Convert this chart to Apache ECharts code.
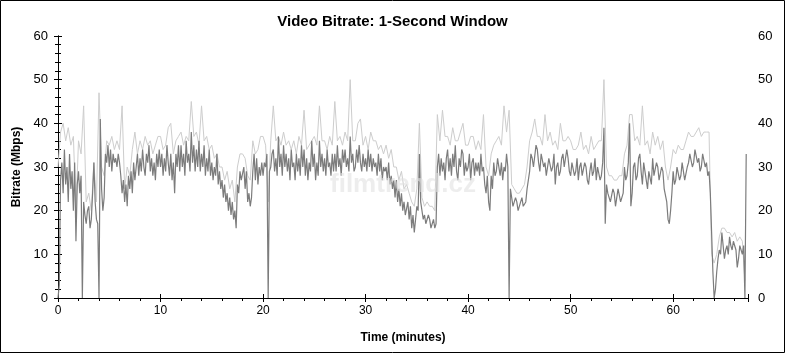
<!DOCTYPE html>
<html>
<head>
<meta charset="utf-8">
<script src="https://cdn.jsdelivr.net/npm/echarts@6/dist/echarts.min.js"></script>
<style>
  html, body { margin: 0; padding: 0; background: #fff; }
  #chart { width: 785px; height: 353px; }
</style>
</head>
<body>
<div id="chart"></div>
<script>
// time step between samples, minutes
const darkStep = 0.125
const lightStep = 0.25

// 1-second bitrate, Mbps (8 samples per minute)
const darkValues = [
  0, 3, 27, 31, 24, 34, 26, 30,
  22, 33, 25, 29, 20, 31, 13, 26,
  29, 24, 28, 0, 22, 19, 17, 20,
  21, 16, 18, 24, 31, 22, 18, 17,
  0, 41, 25, 20, 23, 33, 31, 35,
  30, 34, 29, 33, 31, 32, 30, 33,
  31, 28, 24, 27, 22, 26, 21, 28,
  25, 29, 24, 31, 27, 30, 33, 28,
  32, 29, 34, 30, 28, 33, 31, 35,
  29, 32, 28, 31, 27, 33, 30, 34,
  30, 33, 28, 32, 29, 35, 31, 28,
  33, 27, 31, 24, 33, 30, 35, 29,
  35, 30, 33, 28, 36, 31, 33, 29,
  38, 31, 35, 29, 34, 30, 36, 29,
  33, 30, 35, 28, 32, 29, 34, 28,
  31, 27, 30, 28, 33, 26, 29, 25,
  27, 23, 26, 22, 24, 20, 23, 19,
  22, 18, 20, 16, 26, 24, 29, 27,
  27, 30, 25, 29, 22, 24, 21, 23,
  29, 33, 27, 32, 26, 30, 28, 31,
  28, 31, 30, 33, 0, 29, 30, 33,
  34, 29, 32, 28, 37, 30, 33, 28,
  35, 30, 33, 29, 32, 27, 34, 30,
  31, 27, 33, 29, 32, 28, 35, 30,
  34, 28, 32, 27, 31, 29, 36, 30,
  33, 27, 31, 28, 36, 30, 33, 29,
  32, 28, 34, 30, 31, 28, 33, 29,
  33, 29, 35, 30, 32, 28, 34, 31,
  34, 30, 32, 29, 37, 31, 33, 29,
  30, 34, 31, 35, 31, 29, 33, 30,
  32, 29, 34, 30, 33, 29, 32, 30,
  31, 28, 33, 29, 32, 27, 30, 29,
  30, 27, 31, 26, 28, 25, 27, 23,
  27, 22, 25, 21, 24, 20, 22, 19,
  19, 22, 18, 21, 16, 19, 15, 18,
  21, 20, 33, 22, 20, 18, 19, 17,
  17, 19, 18, 16, 17, 18, 16, 17,
  30, 33, 28, 32, 29, 31, 27, 32,
  34, 29, 32, 28, 33, 30, 35, 29,
  27, 32, 30, 34, 33, 28, 31, 29,
  30, 33, 27, 31, 32, 28, 31, 29,
  31, 28, 33, 29, 30, 26, 24, 28,
  22, 20, 28, 25, 31, 28, 29, 32,
  32, 28, 31, 27, 30, 29, 33, 30,
  0, 25, 23, 21, 21, 23, 22, 20,
  20, 22, 23, 21, 21, 22, 25, 27,
  29, 33, 32, 30, 30, 35, 34, 31,
  29, 33, 33, 30, 31, 28, 28, 32,
  32, 29, 30, 33, 26, 30, 31, 28,
  29, 32, 33, 30, 30, 34, 32, 29,
  28, 31, 31, 28, 29, 32, 27, 30,
  31, 28, 28, 31, 30, 27, 26, 29,
  31, 28, 29, 32, 27, 30, 30, 27,
  28, 31, 39, 17, 26, 24, 24, 22,
  22, 25, 24, 21, 23, 25, 25, 22,
  22, 24, 30, 27, 28, 31, 40, 21,
  24, 30, 31, 27, 28, 32, 33, 29,
  26, 31, 31, 27, 25, 29, 29, 26,
  32, 28, 28, 31, 30, 27, 27, 30,
  29, 25, 25, 22, 18, 17, 20, 24,
  29, 26, 27, 30, 30, 27, 28, 31,
  29, 27, 27, 30, 31, 33, 33, 30,
  31, 34, 34, 31, 32, 29, 30, 33,
  33, 30, 31, 28, 29, 24, 15, 6,
  0, 2, 6, 9, 11, 10, 15, 12,
  9, 11, 12, 10, 14, 12, 11, 13,
  13, 11, 7, 9, 12, 11, 10, 12,
  0, 33
]

// light gray peak trace behind it (4 samples per minute)
const lightValues = [
  30, 38, 40, 36, 39, 35, 37, 20, 36, 33, 44, 22, 24, 20, 31, 22,
  47, 30, 28, 36, 35, 37, 34, 36, 34, 44, 25, 30, 28, 34, 38, 33,
  36, 34, 37, 35, 36, 33, 35, 37, 37, 34, 35, 39, 40, 33, 36, 37,
  38, 35, 37, 36, 45, 37, 38, 35, 44, 36, 37, 34, 35, 32, 33, 30,
  30, 27, 29, 25, 27, 22, 30, 33, 33, 32, 28, 27, 36, 33, 34, 37,
  37, 35, 22, 36, 44, 36, 37, 35, 38, 35, 36, 34, 36, 33, 37, 35,
  43, 34, 35, 36, 37, 35, 44, 36, 36, 34, 37, 35, 45, 36, 37, 35,
  38, 36, 50, 36, 36, 40, 41, 35, 37, 34, 38, 36, 36, 34, 35, 33,
  35, 32, 34, 30, 30, 27, 29, 25, 26, 24, 22, 21, 25, 40, 23, 21,
  22, 21, 21, 20, 42, 36, 43, 37, 37, 35, 39, 36, 36, 38, 40, 35,
  35, 37, 37, 34, 36, 34, 42, 30, 28, 33, 35, 36, 37, 35, 44, 38,
  43, 26, 25, 24, 24, 25, 26, 30, 36, 38, 41, 37, 37, 35, 42, 36,
  38, 35, 36, 34, 40, 36, 36, 37, 36, 34, 34, 35, 38, 34, 35, 33,
  37, 34, 35, 36, 36, 50, 30, 28, 28, 27, 27, 28, 28, 33, 35, 42,
  42, 36, 37, 35, 44, 35, 36, 33, 38, 35, 37, 34, 36, 30, 27, 30,
  34, 33, 35, 34, 34, 36, 38, 37, 37, 38, 39, 37, 38, 38, 38, 10,
  8, 10, 14, 16, 16, 15, 15, 14, 15, 13, 14, 13, 4
]

const xTicks = [0, 10, 20, 30, 40, 50, 60]
const xMax = 67.3
const yMax = 60

const darkData = darkValues.map((v, i) => [i * darkStep, v])
const lightData = lightValues.map((v, i) => [i * lightStep, v])

const font = 'Liberation Sans, Arial, sans-serif'
const black = '#000'

function xAxisBase(extra) {
  return Object.assign({
    type: 'value',
    min: 0,
    max: xMax,
    interval: 10,
    splitLine: { show: false },
    axisLine: { show: true, lineStyle: { color: black, width: 1 } }
  }, extra)
}

function yAxisBase(extra) {
  return Object.assign({
    type: 'value',
    min: 0,
    max: yMax,
    interval: 10,
    splitLine: { show: false },
    axisLine: { show: true, lineStyle: { color: black, width: 1 } }
  }, extra)
}

const chart = echarts.init(document.getElementById('chart'), null, { renderer: 'canvas' })

chart.setOption({
  animation: false,
  backgroundColor: '#fff',
  title: {
    text: 'Video Bitrate: 1-Second Window',
    left: 'center',
    top: 9,
    textStyle: { fontFamily: font, fontSize: 15, fontWeight: 'bold', color: black }
  },
  grid: { left: 58, right: 37, top: 36, bottom: 55 },
  xAxis: [
    xAxisBase({
      position: 'bottom',
      name: 'Time (minutes)',
      nameLocation: 'middle',
      nameGap: 34,
      nameTextStyle: { fontFamily: font, fontSize: 12, fontWeight: 'bold', color: black },
      axisTick: { show: true, inside: false, length: 4, lineStyle: { color: black } },
      minorTick: { show: true, splitNumber: 5, length: 3, lineStyle: { color: black } },
      axisLabel: {
        margin: 7,
        fontFamily: font,
        fontSize: 12,
        color: black,
        formatter: (v) => (xTicks.includes(v) ? String(v) : '')
      }
    }),
    xAxisBase({
      position: 'bottom',
      axisLine: { show: false },
      axisTick: { show: true, inside: true, length: 4, lineStyle: { color: black } },
      axisLabel: { show: false }
    }),
    xAxisBase({
      position: 'top',
      axisTick: { show: true, inside: true, length: 4, lineStyle: { color: black } },
      minorTick: { show: true, splitNumber: 5, length: 3, lineStyle: { color: black } },
      axisLabel: { show: false }
    })
  ],
  yAxis: [
    yAxisBase({
      position: 'left',
      name: 'Bitrate (Mbps)',
      nameLocation: 'middle',
      nameGap: 35,
      nameTextStyle: { fontFamily: font, fontSize: 12, fontWeight: 'bold', color: black },
      axisTick: { show: true, inside: false, length: 4, lineStyle: { color: black } },
      minorTick: { show: true, splitNumber: 5, length: 3, lineStyle: { color: black } },
      axisLabel: { margin: 10, fontFamily: font, fontSize: 13, color: black }
    }),
    yAxisBase({
      position: 'left',
      axisLine: { show: false },
      axisTick: { show: true, inside: true, length: 4, lineStyle: { color: black } },
      axisLabel: { show: false }
    }),
    yAxisBase({
      position: 'right',
      axisTick: { show: true, inside: false, length: 4, lineStyle: { color: black } },
      minorTick: { show: true, splitNumber: 5, length: 3, lineStyle: { color: black } },
      axisLabel: { margin: 10, fontFamily: font, fontSize: 13, color: black }
    })
  ],
  graphic: [
    {
      type: 'rect',
      silent: true,
      shape: { x: 0.5, y: 0.5, width: 784, height: 352 },
      style: { fill: 'none', stroke: black, lineWidth: 1 }
    },
    {
      type: 'text',
      silent: true,
      z: 10,
      left: 330,
      top: 172,
      style: {
        text: 'filmtrend.cz',
        fill: 'rgba(225,225,225,0.6)',
        font: 'bold 26px ' + font
      }
    }
  ],
  series: [
    {
      name: 'peak',
      type: 'line',
      xAxisIndex: 0,
      yAxisIndex: 0,
      showSymbol: false,
      z: 2,
      lineStyle: { width: 1, color: '#cdcdcd' },
      data: lightData
    },
    {
      name: 'bitrate',
      type: 'line',
      xAxisIndex: 0,
      yAxisIndex: 0,
      showSymbol: false,
      z: 3,
      lineStyle: { width: 1.2, color: '#7c7c7c' },
      data: darkData
    }
  ]
})
</script>
</body>
</html>
